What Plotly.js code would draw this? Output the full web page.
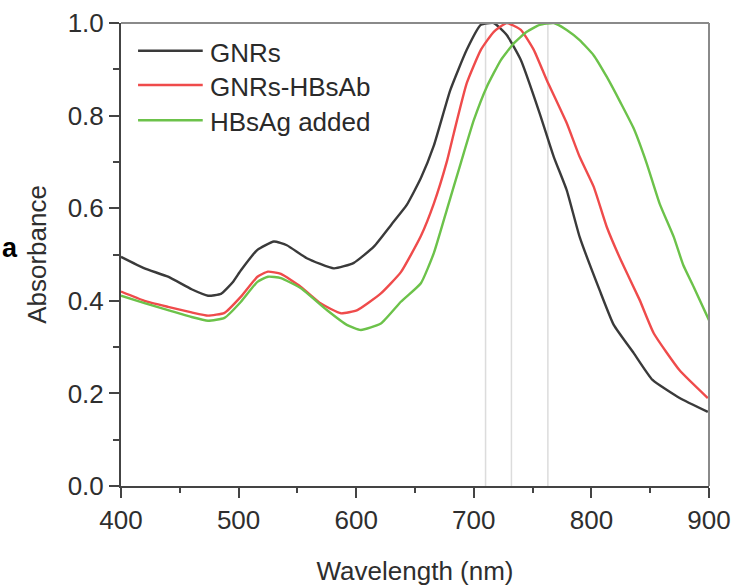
<!DOCTYPE html>
<html>
<head>
<meta charset="utf-8">
<script src="https://cdn.plot.ly/plotly-3.0.1.min.js"></script>
<style>html,body{margin:0;padding:0;background:#fff;}#chart{width:747px;height:587px;}</style>
</head>
<body>
<div id="chart"></div>
<script>
// ---- Data ----
const seriesNames = ["GNRs", "GNRs-HBsAb", "HBsAg added"];
const seriesColors = ["#3a3a3a", "#ef4b4b", "#6cc24a"];

const wlGNRs = [400,420,440,460,474,485,495,502,516,530,541,558,581,598,615,630,643,655,666,680,694,706,717,728,740,756,768,779,790,807,819,836,852,875,899];
const absGNRs = [0.495,0.47,0.452,0.425,0.411,0.415,0.44,0.466,0.51,0.528,0.52,0.492,0.47,0.482,0.517,0.565,0.607,0.665,0.735,0.855,0.942,0.996,1.0,0.974,0.92,0.805,0.711,0.639,0.538,0.423,0.348,0.287,0.229,0.19,0.16];

const wlHBsAb = [400,420,440,460,474,488,502,516,525,536,553,570,587,601,621,638,655,666,677,683,694,706,717,728,740,751,762,779,790,802,813,825,841,853,875,899];
const absHBsAb = [0.42,0.40,0.387,0.375,0.368,0.374,0.409,0.452,0.463,0.458,0.43,0.394,0.373,0.38,0.416,0.462,0.54,0.61,0.70,0.762,0.87,0.942,0.981,1.0,0.985,0.942,0.877,0.784,0.711,0.646,0.56,0.488,0.402,0.33,0.25,0.19];

const wlHBsAg = [400,420,440,460,474,488,502,516,525,536,553,575,592,604,621,638,655,666,677,689,700,711,723,734,745,756,768,779,790,802,813,825,836,847,858,870,878,887,900];
const absHBsAg = [0.411,0.395,0.38,0.365,0.357,0.363,0.398,0.441,0.452,0.449,0.427,0.38,0.348,0.337,0.351,0.398,0.438,0.503,0.596,0.698,0.79,0.862,0.92,0.956,0.981,0.996,1.0,0.985,0.963,0.93,0.884,0.827,0.772,0.697,0.61,0.538,0.478,0.43,0.358];

const peakWavelengths = [710, 732, 763];

const xTickVals = [400,500,600,700,800,900];
const yTickVals = [0.0,0.2,0.4,0.6,0.8,1.0];

const xTitle = "Wavelength (nm)";
const yTitle = "Absorbance";
const panelLabel = "a";

// ---- Build chart ----
const xs = [wlGNRs, wlHBsAb, wlHBsAg];
const ys = [absGNRs, absHBsAb, absHBsAg];

const traces = seriesNames.map((n, i) => ({
  x: xs[i], y: ys[i], name: n, type: "scatter", mode: "lines",
  line: {color: seriesColors[i], width: 2.4, shape: "spline", smoothing: 0.45},
  showlegend: false, hoverinfo: "skip"
}));

const font = {family: "Liberation Sans, Arial, sans-serif", size: 26, color: "#2e2e2e"};

const shapes = [];
// faint vertical peak markers
peakWavelengths.forEach(w => shapes.push({
  type: "line", xref: "x", yref: "y domain", x0: w, x1: w, y0: 0, y1: 1,
  line: {color: "#dcdcdc", width: 1.5}, layer: "below"
}));
// top and right frame lines (lighter)
shapes.push({type: "line", xref: "x domain", yref: "y domain", x0: 0, x1: 1, y0: 1, y1: 1, line: {color: "#8a8a8a", width: 2}});
shapes.push({type: "line", xref: "x domain", yref: "y domain", x0: 1, x1: 1, y0: 0, y1: 1, line: {color: "#8a8a8a", width: 2}});

// custom legend
const legY = [0.940, 0.866, 0.790];
const annotations = [];
seriesNames.forEach((n, i) => {
  shapes.push({type: "line", xref: "paper", yref: "paper", x0: 0.029, x1: 0.139, y0: legY[i], y1: legY[i],
    line: {color: seriesColors[i], width: 2.5}});
  annotations.push({xref: "paper", yref: "paper", x: 0.148, y: legY[i] - 0.004, xanchor: "left", yanchor: "middle",
    text: n, showarrow: false, font: {family: font.family, size: 26, color: "#2a2a2a"}});
});
annotations.push({xref: "paper", yref: "paper", x: -0.205, y: 0.515, xanchor: "left", yanchor: "middle",
  text: "<b>" + panelLabel + "</b>", showarrow: false, font: {family: font.family, size: 27, color: "#000"}});

const layout = {
  width: 747, height: 587,
  margin: {l: 121, r: 38, t: 23, b: 101},
  paper_bgcolor: "#fff", plot_bgcolor: "#fff",
  font: font,
  xaxis: {
    range: [400, 900], tickvals: xTickVals, ticktext: xTickVals.map(String),
    ticks: "outside", ticklen: 10, tickwidth: 2, tickcolor: "#444",
    minor: {dtick: 50, ticks: "outside", ticklen: 5, tickwidth: 2, tickcolor: "#444"},
    showline: true, linecolor: "#444", linewidth: 2, showgrid: false, zeroline: false,
    tickfont: font, automargin: false,
    title: {text: xTitle, font: font, standoff: 28}
  },
  yaxis: {
    range: [0, 1], tickvals: yTickVals, ticktext: yTickVals.map(v => v.toFixed(1)),
    ticks: "outside", ticklen: 10, tickwidth: 2, tickcolor: "#444",
    minor: {dtick: 0.1, ticks: "outside", ticklen: 6, tickwidth: 2, tickcolor: "#444"},
    showline: true, linecolor: "#444", linewidth: 2, showgrid: false, zeroline: false,
    tickfont: font, automargin: false,
    title: {text: yTitle, font: font, standoff: 14}
  },
  shapes: shapes,
  annotations: annotations
};

Plotly.newPlot("chart", traces, layout, {staticPlot: true, displayModeBar: false});
</script>
</body>
</html>
